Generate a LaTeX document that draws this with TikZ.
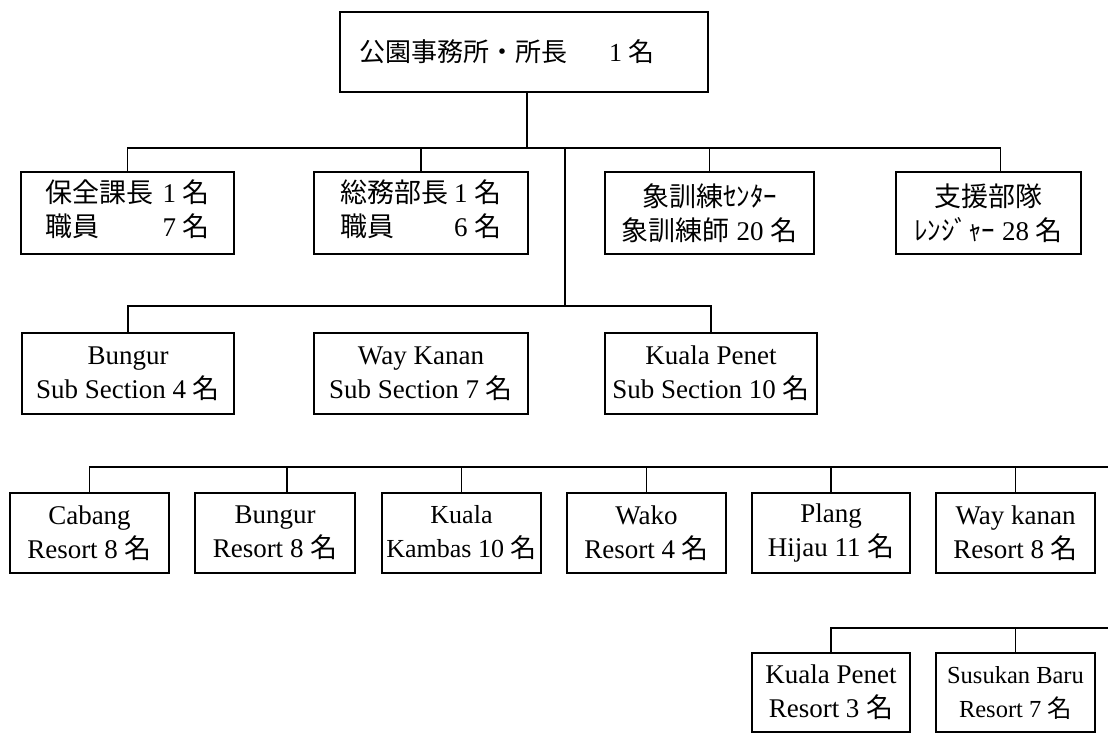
\documentclass[tikz,border=0pt]{standalone}
\usepackage{fontspec}
\setmainfont{Liberation Serif}
\newfontfamily\jp{Noto Sans CJK JP}
\newcommand{\J}[1]{{\jp #1}}
\begin{document}
\begin{tikzpicture}[x=1pt,y=-1pt,
  box/.style={draw, line width=1.6pt, inner sep=0pt, align=center,
    font=\fontsize{27}{34}\selectfont},
  conn/.style={line width=1.6pt, line join=miter}]
\useasboundingbox (0,0) rectangle (1108,733);

% top
\node[box, minimum width=368pt, minimum height=80pt, font=\fontsize{26}{34}\selectfont] (top) at (524,52)
  {\J{公園事務所・所長}\hspace{1.6em}1 \J{名}\hspace*{34pt}};

% row 1
\node[box, minimum width=213pt, minimum height=82pt] (r1a) at (127.5,213)
  {\begin{tabular}{@{}l@{\hspace{0.35em}}r@{}}\J{保全課長} & 1 \J{名}\\ \J{職員} & 7 \J{名}\end{tabular}};
\node[box, minimum width=214pt, minimum height=82pt] (r1b) at (421,213)
  {\begin{tabular}{@{}l@{\hspace{0.2em}}r@{}}\J{総務部長} & 1 \J{名}\\ \J{職員} & 6 \J{名}\end{tabular}};
\node[box, minimum width=209pt, minimum height=82pt] (r1c) at (709.5,213)
  {\J{象訓練ｾﾝﾀｰ}\\ \J{象訓練師} 20 \J{名}};
\node[box, minimum width=185pt, minimum height=82pt] (r1d) at (988.5,213)
  {\J{支援部隊}\\ \J{ﾚﾝｼﾞｬｰ} 28 \J{名}};

% row 2
\node[box, minimum width=212pt, minimum height=81pt] (r2a) at (128,373.5)
  {Bungur\\ Sub Section 4 \J{名}};
\node[box, minimum width=214pt, minimum height=81pt] (r2b) at (421,373.5)
  {Way Kanan\\ Sub Section 7 \J{名}};
\node[box, minimum width=212pt, minimum height=81pt] (r2c) at (711,373.5)
  {Kuala Penet\\ Sub Section 10 \J{名}};

% row 3
\node[box, minimum width=159pt, minimum height=80pt] (r3a) at (89.5,533)
  {Cabang\\ Resort 8 \J{名}};
\node[box, minimum width=160pt, minimum height=80pt] (r3b) at (275,533)
  {Bungur\\ Resort 8 \J{名}};
\node[box, minimum width=159pt, minimum height=80pt, font=\fontsize{26}{34}\selectfont] (r3c) at (461.5,533)
  {Kuala\\ Kambas 10 \J{名}};
\node[box, minimum width=159pt, minimum height=80pt] (r3d) at (646.5,533)
  {Wako\\ Resort 4 \J{名}};
\node[box, minimum width=158pt, minimum height=80pt] (r3e) at (831,533)
  {Plang\\ Hijau 11 \J{名}};
\node[box, minimum width=159pt, minimum height=80pt] (r3f) at (1015.5,533)
  {Way kanan\\ Resort 8 \J{名}};

% row 4
\node[box, minimum width=158pt, minimum height=79pt] (r4a) at (831,692.5)
  {Kuala Penet\\ Resort 3 \J{名}};
\node[box, minimum width=159pt, minimum height=79pt, font=\fontsize{24.5}{34}\selectfont] (r4b) at (1015.5,692.5)
  {Susukan Baru\\ Resort 7 \J{名}};

% bus coordinates
\coordinate (bus1) at (0,148);
\coordinate (bus2) at (0,306);
\coordinate (bus3) at (0,467);
\coordinate (bus4) at (0,628);
\coordinate (split) at (565,148);
\coordinate (end3) at (1108,467);
\coordinate (end4) at (1108,628);

% connectors row 1
\draw[conn] ([xshift=3pt]top.south) -- ([xshift=3pt]top.south |- bus1);
\draw[conn] (r1a.north) |- ([xshift=12pt]r1d.north |- bus1) -- ([xshift=12pt]r1d.north);
\draw[conn] (r1b.north) -- (r1b.north |- bus1);
\draw[conn] (r1c.north) -- (r1c.north |- bus1);

% connectors row 2
\draw[conn] (split) -- (split |- bus2);
\draw[conn] (r2a.north) |- (r2c.north |- bus2) -- (r2c.north);

% connectors row 3
\draw[conn] (r3a.north) |- (end3);
\draw[conn] ([xshift=12pt]r3b.north) -- ([xshift=12pt]r3b.north |- bus3);
\draw[conn] (r3c.north) -- (r3c.north |- bus3);
\draw[conn] (r3d.north) -- (r3d.north |- bus3);
\draw[conn] (r3e.north) -- (r3e.north |- bus3);
\draw[conn] (r3f.north) -- (r3f.north |- bus3);

% connectors row 4
\draw[conn] (r4a.north) |- (end4);
\draw[conn] (r4b.north) -- (r4b.north |- bus4);
\end{tikzpicture}
\end{document}
